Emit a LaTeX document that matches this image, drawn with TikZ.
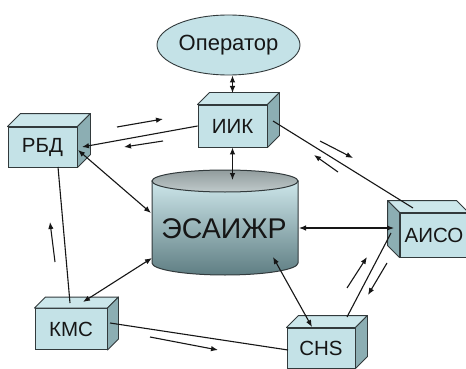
\documentclass[tikz,border=0pt]{standalone}
\usepackage{fontspec}
\setmainfont{Liberation Sans}
\usetikzlibrary{arrows.meta,calc,shapes.geometric}
\definecolor{boxfront}{RGB}{196,226,231}
\definecolor{boxside}{RGB}{140,174,179}
\definecolor{boxtop}{RGB}{204,231,235}
\definecolor{edge}{RGB}{50,58,60}
\definecolor{ink}{RGB}{22,22,22}
\definecolor{cyltop}{RGB}{205,230,234}
\definecolor{cylbot}{RGB}{95,126,131}
\definecolor{capdark}{RGB}{145,156,157}
\definecolor{caplight}{RGB}{192,202,203}
\newcommand\cubeR[2]{%
  \filldraw[fill=boxtop,draw=edge,line width=0.9pt,line join=round] (#1.north west) -- ++(#2,-#2) -- ($(#1.north east)+(#2,-#2)$) -- (#1.north east) -- cycle;
  \filldraw[fill=boxside,draw=edge,line width=0.9pt,line join=round] (#1.north east) -- ++(#2,-#2) -- ($(#1.south east)+(#2,-#2)$) -- (#1.south east) -- cycle;}
\newcommand\cubeL[2]{%
  \filldraw[fill=boxtop,draw=edge,line width=0.9pt,line join=round] (#1.north east) -- ++(-#2,-#2) -- ($(#1.north west)+(-#2,-#2)$) -- (#1.north west) -- cycle;
  \filldraw[fill=boxside,draw=edge,line width=0.9pt,line join=round] (#1.north west) -- ++(-#2,-#2) -- ($(#1.south west)+(-#2,-#2)$) -- (#1.south west) -- cycle;}
\tikzset{
  cube/.style={draw=edge, line width=0.9pt, fill=boxfront, inner sep=0pt, text=ink, font=\fontsize{20.5}{24}\selectfont},
  conn/.style={draw=ink, line width=1.1pt},
  arr/.style={conn, -{Latex[length=7pt,width=5.5pt]}},
  dbl/.style={conn, {Latex[length=7pt,width=5.5pt]}-{Latex[length=7pt,width=5.5pt]}},
}
\begin{document}
\begin{tikzpicture}[x=1pt,y=-1pt]
\useasboundingbox (0,0) rectangle (466,369);
\clip (0,0) rectangle (466,369);
\fill[white] (0,0) rectangle (466,369);

% cylinder
\shade[top color=cyltop, bottom color=cylbot, draw=edge, line width=1pt]
  (152,181) -- (152,263) arc[start angle=180,end angle=360,x radius=73pt,y radius=12pt] -- (298,181) -- cycle;
\shade[top color=capdark, bottom color=caplight, draw=edge, line width=1pt]
  (225,181) ellipse [x radius=73pt, y radius=11pt];
\node[text=ink, font=\fontsize{28.5}{32}\selectfont] (db) at (224,229) {ЭСАИЖР};

% operator
\node[ellipse, draw=edge, line width=0.9pt, fill=boxfront, minimum width=143, minimum height=60, inner sep=0pt, text=ink, font=\fontsize{22}{26}\selectfont] (op) at (228.5,45) {Оператор};

% boxes
\node[cube, minimum width=69, minimum height=42] (iik) at (232.5,126) {ИИК};
\cubeR{iik}{12}
\node[cube, minimum width=69, minimum height=40] (rbd) at (42.5,147) {РБД};
\cubeR{rbd}{13}
\node[cube, minimum width=72, minimum height=41] (kms) at (71,329) {\raisebox{-3pt}{КМС}};
\cubeR{kms}{11}
\node[cube, minimum width=68, minimum height=40] (chs) at (321,348) {CHS};
\cubeR{chs}{12}
\node[cube, minimum width=68, minimum height=44] (aiso) at (434,235) {АИСО};
\cubeL{aiso}{12}

% connector end points
\coordinate (iikT) at (232.5,93);
\coordinate (iikR) at (273,121);
\coordinate (dbT) at (232.5,180);
\coordinate (dbL) at (151,213);
\coordinate (dbLL) at (152,258);
\coordinate (dbR) at (299,228);
\coordinate (dbB) at (273,257);
\coordinate (rbdR1) at (82,147);
\coordinate (rbdR2) at (78,150);
\coordinate (rbdB) at (58,167);
\coordinate (kmsT1) at (70,303);
\coordinate (kmsT2) at (83,302);
\coordinate (kmsR) at (110,323);
\coordinate (chsL) at (288,350);
\coordinate (chsT1) at (312,327);
\coordinate (chsT2) at (347,317);
\coordinate (aisoT) at (413,208);
\coordinate (aisoL1) at (394,228);
\coordinate (aisoL2) at (391,233);

% connectors
\draw[dbl] (op.south -| iikT) -- (iikT);
\draw[dbl] (iik.south) -- (dbT);
\draw[arr] (iik.west) -- (rbdR1);
\draw[dbl] (rbdR2) -- (dbL);
\draw[conn] (rbdB) -- (kmsT1);
\draw[dbl] (kmsT2) -- (dbLL);
\draw[conn] (kmsR) -- (chsL);
\draw[dbl] (dbB) -- (chsT1);
\draw[dbl] (dbR) -- (aisoL1);
\draw[conn] (iikR) -- (aisoT);
\draw[conn] (chsT2) -- (aisoL2);

% flow arrows
\coordinate (f1a) at (117,127); \coordinate (f1b) at (163,119);
\coordinate (f2a) at (163,141); \coordinate (f2b) at (124,147);
\coordinate (f3a) at (55,262);  \coordinate (f3b) at (50,222);
\coordinate (f4a) at (150,337); \coordinate (f4b) at (218,350);
\coordinate (f5a) at (320,141); \coordinate (f5b) at (353,158);
\coordinate (f6a) at (338,172); \coordinate (f6b) at (314,155);
\coordinate (f7a) at (347,288); \coordinate (f7b) at (367,257);
\coordinate (f8a) at (387,263); \coordinate (f8b) at (368,295);
\draw[arr] (f1a) -- (f1b);
\draw[arr] (f2a) -- (f2b);
\draw[arr] (f3a) -- (f3b);
\draw[arr] (f4a) -- (f4b);
\draw[arr] (f5a) -- (f5b);
\draw[arr] (f6a) -- (f6b);
\draw[arr] (f7a) -- (f7b);
\draw[arr] (f8a) -- (f8b);
\end{tikzpicture}
\end{document}
